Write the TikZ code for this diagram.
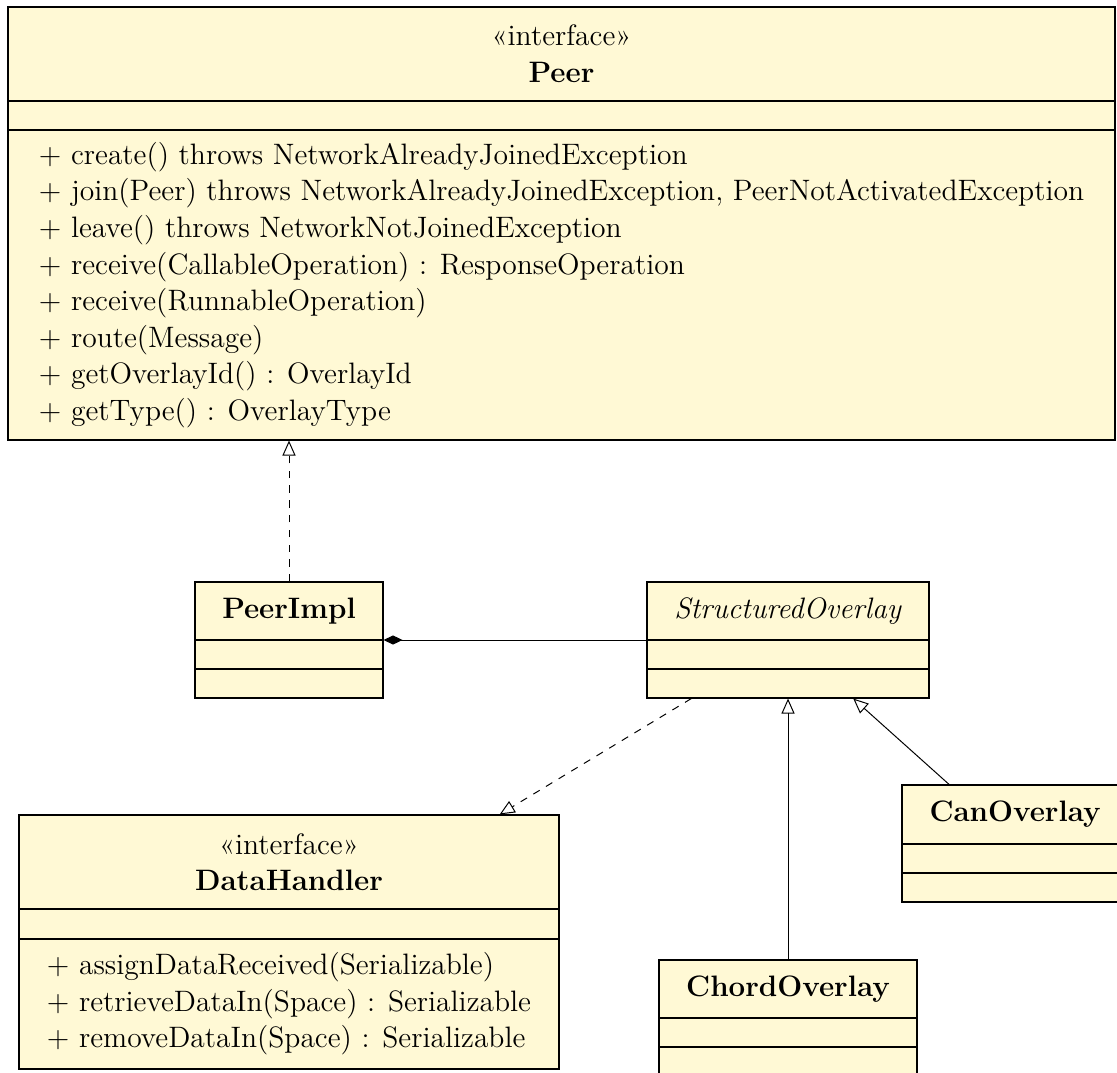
\documentclass[12pt,tikz,border=0pt]{standalone}
\usetikzlibrary{arrows.meta,fit}
\definecolor{ClassClr}{rgb}{1,0.976,0.835}

\begin{document}
\begin{tikzpicture}[x=0.4062pt,y=-0.4062pt,
  every node/.style={font=\fontsize{12}{14.87}\selectfont},
  classbox/.style={draw,fill=ClassClr,inner sep=0pt,line width=0.45pt},
  realize/.style={dashed,-{Triangle[open,length=6.1pt,width=5.3pt]}},
  inherit/.style={-{Triangle[open,length=6.1pt,width=5.3pt]}},
  compose/.style={-{Diamond[length=7.7pt,width=3.7pt]}}]
\useasboundingbox (0,0) rectangle (1117,1072);
\clip (0,0) rectangle (1117,1072);

\node[classbox,fit={(8,7) (1115,440)}] (Peer) {};
\node[classbox,fit={(195,582) (383,698)}] (Impl) {};
\node[classbox,fit={(647,582) (929,698)}] (StructOv) {};
\node[classbox,fit={(19,815) (559,1069)}] (DataHndl) {};
\node[classbox,fit={(659,960) (917,1076)}] (ChordOv) {};
\node[classbox,fit={(902,785) (1128,902)}] (CanOv) {};

\foreach \n/\a/\b in {Peer/101/130,Impl/640/669,StructOv/640/669,
  DataHndl/909/939,ChordOv/1018/1047,CanOv/844/873}{
  \draw[line width=0.45pt] (\n.west |- 0,\a) -- (\n.east |- 0,\a);
  \draw[line width=0.45pt] (\n.west |- 0,\b) -- (\n.east |- 0,\b);
}

\node[align=center] (PeerT) at (561.5,54) {«interface»\\\textbf{Peer}};
\node[align=left] (PeerOps) at (561.5,285) {%
  + create() throws NetworkAlreadyJoinedException\\
  + join(Peer) throws NetworkAlreadyJoinedException, PeerNotActivatedException\\
  + leave() throws NetworkNotJoinedException\\
  + receive(CallableOperation) : ResponseOperation\\
  + receive(RunnableOperation)\\
  + route(Message)\\
  + getOverlayId() : OverlayId\\
  + getType() : OverlayType};
\node (ImplT) at (289,611) {\textbf{PeerImpl}};
\node (StructOvT) at (788,611) {\textit{StructuredOverlay}};
\node[align=center] (DataHndlT) at (289,862) {«interface»\\\textbf{DataHandler}};
\node[align=left] (DataHndlOps) at (289,1004) {%
  + assignDataReceived(Serializable)\\
  + retrieveDataIn(Space) : Serializable\\
  + removeDataIn(Space) : Serializable};
\node (ChordOvT) at (788,989) {\textbf{ChordOverlay}};
\node (CanOvT) at (1015,814.5) {\textbf{CanOverlay}};

\draw[realize] (Impl.north) -- (Impl.north |- Peer.south);
\draw[compose] (StructOv) -- (Impl);
\draw[realize] (StructOv) -- (DataHndl);
\draw[inherit] (ChordOv) -- (StructOv);
\draw[inherit] (CanOv) -- (StructOv);

\end{tikzpicture}
\end{document}
